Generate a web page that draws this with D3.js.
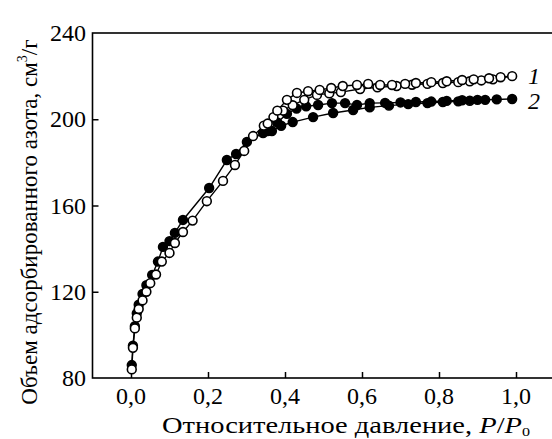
<!DOCTYPE html>
<html>
<head>
<meta charset="utf-8">
<script src="https://cdn.jsdelivr.net/npm/d3@7"></script>
<style>
  body { margin: 0; background: #fff; }
</style>
</head>
<body>
<svg id="chart" width="552" height="439" font-family="'Liberation Serif', 'DejaVu Serif', serif"></svg>
<script>
// curve 1 (open circles): adsorption branch
const ads1X = [0.002, 0.005, 0.01, 0.015, 0.02, 0.03, 0.04, 0.05, 0.065, 0.08, 0.1, 0.114, 0.135, 0.16, 0.197, 0.239, 0.27, 0.294, 0.317, 0.345, 0.37, 0.395, 0.42, 0.45, 0.483, 0.515, 0.545, 0.595, 0.64, 0.69, 0.73, 0.77, 0.81, 0.85, 0.88, 0.91, 0.94, 0.99];
const ads1Y = [84, 94, 103, 108, 112, 116, 120, 124, 128, 134, 138, 142.6, 147.7, 153, 162, 171.4, 178.8, 185.3, 192.2, 197, 201, 204, 206.5, 209, 211.3, 212, 212.6, 214, 214.8, 215.4, 216, 216.4, 216.8, 217.2, 217.6, 218, 218.5, 220];
// curve 1: desorption branch
const des1X = [0.96, 0.93, 0.89, 0.86, 0.82, 0.78, 0.74, 0.712, 0.678, 0.647, 0.616, 0.587, 0.55, 0.52, 0.49, 0.46, 0.431, 0.405, 0.38, 0.355];
const des1Y = [219.5, 219, 218.5, 218.2, 217.6, 217.2, 216.8, 216.4, 215.9, 215.9, 216.4, 215.9, 215.4, 214.5, 213.6, 213, 212.2, 209, 204, 198];

// curve 2 (filled circles): adsorption branch
const ads2X = [0.002, 0.005, 0.01, 0.015, 0.02, 0.03, 0.04, 0.055, 0.07, 0.083, 0.1, 0.114, 0.135, 0.203, 0.249, 0.273, 0.301, 0.343, 0.366, 0.39, 0.42, 0.473, 0.525, 0.577, 0.62, 0.67, 0.72, 0.77, 0.81, 0.85, 0.88, 0.92, 0.99];
const ads2Y = [86, 95, 104, 110, 114, 119, 123, 127.8, 134, 140.8, 143.5, 147.3, 153.3, 168.1, 181.1, 183.9, 189.5, 193.6, 194.5, 197, 198.7, 201, 202.9, 204.3, 205.5, 206.3, 207, 207.5, 208, 208.3, 208.6, 209, 209.4];
// curve 2: desorption branch
const des2X = [0.95, 0.9, 0.86, 0.82, 0.78, 0.74, 0.7, 0.66, 0.62, 0.587, 0.556, 0.522, 0.486, 0.455, 0.43, 0.405, 0.38, 0.355];
const des2Y = [209.2, 209, 208.8, 208.5, 208.2, 208, 207.8, 207.6, 207.5, 206.6, 207.5, 207.5, 206.6, 206, 205, 202.5, 198.5, 194.5];

const xTicks = [0, 0.2, 0.4, 0.6, 0.8, 1.0];
const yTicks = [80, 120, 160, 200, 240];
const seriesLabels = ["1", "2"];

const svg = d3.select("#chart");

const x = d3.scaleLinear().domain([-0.1, 1.1]).range([92.5, 554.5]);
const y = d3.scaleLinear().domain([80, 240]).range([378, 33]);

const fmt = d => d3.format(".1f")(d).replace(".", ",");

// frame
svg.append("rect")
    .attr("x", x(-0.1)).attr("y", y(240))
    .attr("width", x(1.1) - x(-0.1)).attr("height", y(80) - y(240))
    .attr("fill", "none").attr("stroke", "#000").attr("stroke-width", 1.6);

// inward ticks
const xAxis = d3.axisTop(x).tickValues(xTicks).tickSize(6).tickFormat("");
svg.append("g").attr("transform", `translate(0,${y(80)})`).call(xAxis)
    .call(g => g.select(".domain").remove())
    .call(g => g.selectAll("line").attr("stroke-width", 1.5));

const yAxis = d3.axisRight(y).tickValues(yTicks.slice(1, -1)).tickSize(6).tickFormat("");
svg.append("g").attr("transform", `translate(${x(-0.1)},0)`).call(yAxis)
    .call(g => g.select(".domain").remove())
    .call(g => g.selectAll("line").attr("stroke-width", 1.5));

// tick labels
svg.append("g").selectAll("text").data(xTicks).join("text")
    .attr("x", d => x(d)).attr("y", 404)
    .attr("text-anchor", "middle").attr("font-size", 24)
    .text(fmt);

svg.append("g").selectAll("text").data(yTicks).join("text")
    .attr("x", 86).attr("y", d => y(d) + 8)
    .attr("text-anchor", "end").attr("font-size", 24)
    .text(d => d);

// axis titles
const xt = svg.append("text")
    .attr("x", 162).attr("y", 433)
    .attr("font-size", 23)
    .attr("textLength", 368).attr("lengthAdjust", "spacingAndGlyphs");
xt.append("tspan").text("Относительное давление, ");
xt.append("tspan").attr("font-style", "italic").text("P");
xt.append("tspan").text("/");
xt.append("tspan").attr("font-style", "italic").text("P");
xt.append("tspan").attr("font-size", 13).attr("dy", 3).text("0");

const yt = svg.append("text")
    .attr("transform", "translate(37,222) rotate(-90)")
    .attr("text-anchor", "middle").attr("font-size", 23);
yt.append("tspan").text("Объем адсорбированного азота, см");
yt.append("tspan").attr("font-size", 14).attr("dy", -10).text("3");
yt.append("tspan").attr("dy", 10).text("/г");

// curves
const line = d3.line().x(d => x(d[0])).y(d => y(d[1]));
const series = [
    { ax: ads2X, ay: ads2Y, dx: des2X, dy: des2Y, fill: "#000" },
    { ax: ads1X, ay: ads1Y, dx: des1X, dy: des1Y, fill: "#fff" }
];

series.forEach(s => {
    const ads = s.ax.map((v, i) => [v, s.ay[i]]);
    const des = s.dx.map((v, i) => [v, s.dy[i]]);
    const g = svg.append("g");
    g.append("path").datum(ads.concat(des))
        .attr("d", line).attr("fill", "none")
        .attr("stroke", "#000").attr("stroke-width", 1.4);
    g.selectAll("circle").data(ads.concat(des)).join("circle")
        .attr("cx", d => x(d[0])).attr("cy", d => y(d[1]))
        .attr("r", 4.4)
        .attr("fill", s.fill).attr("stroke", "#000").attr("stroke-width", 1.6);
});

// series labels
svg.append("g").selectAll("text").data(seriesLabels).join("text")
    .attr("x", 528).attr("y", (d, i) => i === 0 ? 84 : 109)
    .attr("font-size", 24).attr("font-style", "italic")
    .text(d => d);
</script>
</body>
</html>
